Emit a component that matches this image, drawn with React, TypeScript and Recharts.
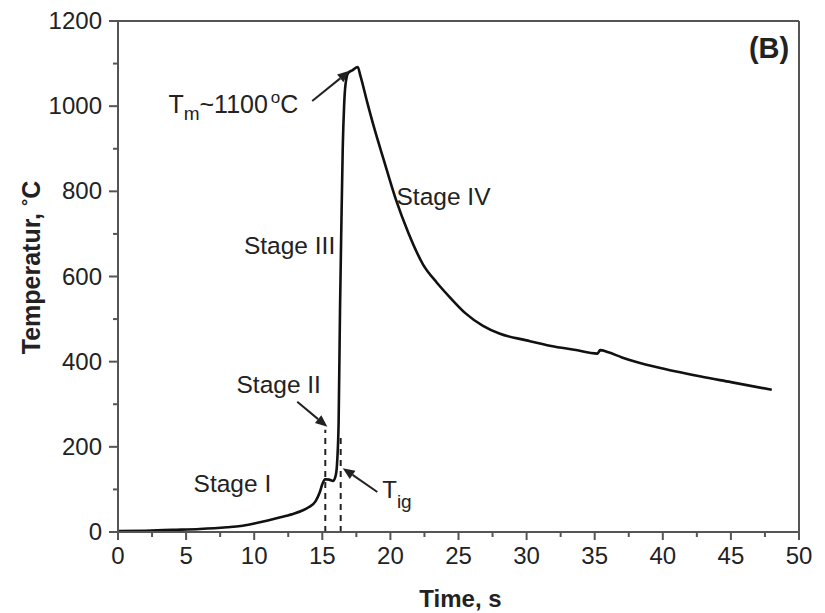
import { LineChart, Line, XAxis, YAxis, ReferenceLine, ReferenceDot } from 'recharts'

// time (s) and temperature (°C)
const time = [
  0, 2, 4, 6, 8, 9, 10, 11, 12, 13, 13.5, 14, 14.5, 14.8, 15, 15.2, 15.5, 15.8,
  16.0, 16.1, 16.2, 16.3, 16.4, 16.5, 16.6, 16.7, 16.9, 17.2, 17.6, 17.8, 18.3,
  18.8, 19.5, 20.4, 21.3, 22.4, 23.4, 24.4, 25.5, 26.8, 28, 30, 31.8, 33.5, 35.2,
  35.4, 36, 37, 38, 40, 42.8, 45, 48,
]
const temperature = [
  2, 3, 5, 7, 11, 14, 20, 27, 35, 44, 50, 58, 72, 92, 112, 124, 123, 120,
  135, 170, 260, 520, 720, 900, 1000, 1050, 1078, 1084, 1092, 1071, 1009,
  950, 875, 781, 704, 628, 586, 550, 514, 484, 466, 450, 437, 428, 419,
  427, 422, 410, 400, 384, 365, 352, 334,
]

const xTicks = [0, 2.5, 5, 7.5, 10, 12.5, 15, 17.5, 20, 22.5, 25, 27.5, 30, 32.5, 35, 37.5, 40, 42.5, 45, 47.5, 50]
const yTicks = [0, 100, 200, 300, 400, 500, 600, 700, 800, 900, 1000, 1100, 1200]

// dashed markers (x, top y) and arrows ([x1, y1, x2, y2], head at second point)
const dashed = [
  [15.22, 240],
  [16.35, 222],
]
const arrows = [
  [13.16, 306, 15.37, 247],
  [14.26, 1012, 17.0, 1083],
  [19.04, 94, 16.5, 150],
]

const stageLabels = [
  { x: 8.4, y: 113, text: 'Stage I' },
  { x: 11.8, y: 346, text: 'Stage II' },
  { x: 12.6, y: 673, text: 'Stage III' },
  { x: 23.9, y: 788, text: 'Stage IV' },
]

const data = time.map((t, i) => ({ t, temp: temperature[i] }))

const AXIS = '#555'
const INK = '#222'
const FONT = '"Liberation Sans", Arial, sans-serif'

const XTick = ({ x, y, payload }: any) => {
  const major = payload.value % 5 === 0
  return (
    <g>
      <line x1={x} y1={y} x2={x} y2={y + (major ? 8 : 5)} stroke={AXIS} strokeWidth={2} />
      {major && (
        <text x={x} y={y + 32} textAnchor="middle" fontSize={24} fill={INK} fontFamily={FONT}>
          {payload.value}
        </text>
      )}
    </g>
  )
}

const YTick = ({ x, y, payload }: any) => {
  const major = payload.value % 200 === 0
  return (
    <g>
      <line x1={x} y1={y} x2={x - (major ? 9 : 5)} y2={y} stroke={AXIS} strokeWidth={2} />
      {major && (
        <text x={x - 16} y={y + 8} textAnchor="end" fontSize={24} fill={INK} fontFamily={FONT}>
          {payload.value}
        </text>
      )}
    </g>
  )
}

const Arrow = (props: any) => {
  const { x1, y1, x2, y2 } = props
  const a = Math.atan2(y2 - y1, x2 - x1)
  const L = 12
  const W = 5
  const bx = x2 - L * Math.cos(a)
  const by = y2 - L * Math.sin(a)
  const px = -Math.sin(a) * W
  const py = Math.cos(a) * W
  return (
    <g>
      <line x1={x1} y1={y1} x2={bx} y2={by} stroke={INK} strokeWidth={2} />
      <polygon points={`${x2},${y2} ${bx + px},${by + py} ${bx - px},${by - py}`} fill={INK} />
    </g>
  )
}

const textAt = (render: (x: number, y: number) => any) => (p: any) =>
  render(p.viewBox.x, p.viewBox.y)

export default function App() {
  return (
    <div style={{ position: 'absolute', left: 0, top: 0, background: '#fff' }}>
      <LineChart
        width={825}
        height={613}
        data={data}
        margin={{ top: 21, right: 26, left: 0, bottom: 0 }}
      >
        <XAxis
          dataKey="t"
          type="number"
          domain={[0, 50]}
          ticks={xTicks}
          interval={0}
          tickSize={0}
          tickMargin={0}
          tick={<XTick />}
          height={81}
          axisLine={{ stroke: AXIS, strokeWidth: 2 }}
          label={{
            content: (p: any) => (
              <text
                x={p.viewBox.x + p.viewBox.width / 2 + 2}
                y={p.viewBox.y + 75}
                textAnchor="middle"
                fontSize={24}
                fontWeight="bold"
                fill={INK}
                fontFamily={FONT}
              >
                Time, s
              </text>
            ),
          }}
        />
        <YAxis
          type="number"
          domain={[0, 1200]}
          ticks={yTicks}
          interval={0}
          tickSize={0}
          tickMargin={0}
          tick={<YTick />}
          width={118}
          axisLine={{ stroke: AXIS, strokeWidth: 2 }}
          label={{
            content: (p: any) => {
              const cx = p.viewBox.x + 40
              const cy = p.viewBox.y + p.viewBox.height / 2 - 9
              return (
                <text
                  x={cx}
                  y={cy}
                  transform={`rotate(-90 ${cx} ${cy})`}
                  textAnchor="middle"
                  fontSize={25}
                  fontWeight="bold"
                  fill={INK}
                  fontFamily={FONT}
                >
                  Temperatur,{' '}
                  <tspan fontSize={18} dy={-6}>°</tspan>
                  <tspan dy={6}>C</tspan>
                </text>
              )
            },
          }}
        />
        {/* frame top and right */}
        <ReferenceLine y={1200} stroke={AXIS} strokeWidth={2} />
        <ReferenceLine x={50} stroke={AXIS} strokeWidth={2} />

        {dashed.map(([x, top], i) => (
          <ReferenceLine
            key={'d' + i}
            segment={[{ x, y: 0 }, { x, y: top }]}
            stroke={INK}
            strokeWidth={2}
            strokeDasharray="6 5"
          />
        ))}

        <Line
          type="monotone"
          dataKey="temp"
          stroke="#111"
          strokeWidth={2.6}
          dot={false}
          isAnimationActive={false}
        />

        {arrows.map(([x1, y1, x2, y2], i) => (
          <ReferenceLine
            key={'a' + i}
            segment={[{ x: x1, y: y1 }, { x: x2, y: y2 }]}
            shape={<Arrow />}
          />
        ))}

        {stageLabels.map((s) => (
          <ReferenceDot
            key={s.text}
            x={s.x}
            y={s.y}
            r={0}
            stroke="none"
            fill="none"
            label={{
              content: textAt((x, y) => (
                <text x={x} y={y} textAnchor="middle" dominantBaseline="central" fontSize={24.5} fill={INK} fontFamily={FONT}>
                  {s.text}
                </text>
              )),
            }}
          />
        ))}

        <ReferenceDot
          x={3.7}
          y={984}
          r={0}
          stroke="none"
          fill="none"
          label={{
            content: textAt((x, y) => (
              <text x={x} y={y} fontSize={25} fill={INK} fontFamily={FONT}>
                T
                <tspan fontSize={19} dy={7}>m</tspan>
                <tspan dy={-7}>~1100</tspan>
                <tspan fontSize={17} dy={-10} dx={3}>o</tspan>
                <tspan dy={10}>C</tspan>
              </text>
            )),
          }}
        />
        <ReferenceDot
          x={19.4}
          y={80}
          r={0}
          stroke="none"
          fill="none"
          label={{
            content: textAt((x, y) => (
              <text x={x} y={y} fontSize={24} fill={INK} fontFamily={FONT}>
                T
                <tspan fontSize={19} dy={10}>ig</tspan>
              </text>
            )),
          }}
        />
        <ReferenceDot
          x={47.8}
          y={1136}
          r={0}
          stroke="none"
          fill="none"
          label={{
            content: textAt((x, y) => (
              <text x={x} y={y} textAnchor="middle" dominantBaseline="central" fontSize={29} fontWeight="bold" fill={INK} fontFamily={FONT}>
                (B)
              </text>
            )),
          }}
        />
      </LineChart>
    </div>
  )
}
